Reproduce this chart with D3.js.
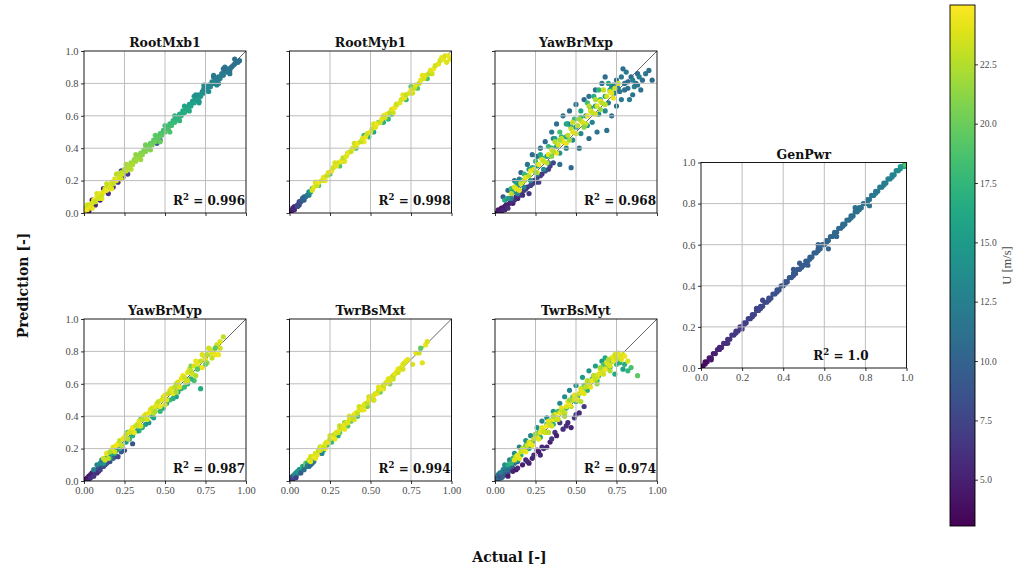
<!DOCTYPE html>
<html>
<head>
<meta charset="utf-8">
<script src="https://cdn.jsdelivr.net/npm/d3@7"></script>
<style>
  body { margin: 0; background: #fff; }
  svg { display: block; }
</style>
</head>
<body>
<svg id="chart" width="1016" height="571"></svg>
<script>
// ---- data: [actual, predicted, wind speed U] per channel ----
const panelNames = ["RootMxb1", "RootMyb1", "YawBrMxp", "YawBrMyp", "TwrBsMxt", "TwrBsMyt", "GenPwr"];
const r2Labels = ["0.996", "0.998", "0.968", "0.987", "0.994", "0.974", "1.0"];
const unitTicksQuarter = [0, 0.25, 0.5, 0.75, 1.0];
const unitTicksFifth = [0, 0.2, 0.4, 0.6, 0.8, 1.0];
const colorbarTicks = [5.0, 7.5, 10.0, 12.5, 15.0, 17.5, 20.0, 22.5];
const windRange = [3.05, 25.0];

const rootMxb1 = [
  [0.03,0.01,4.6],[0.05,0.08,4.1],[0.07,0.05,5.3],[0.10,0.08,4.8],[0.12,0.15,5.6],[0.15,0.12,6.1],[0.18,0.16,5.2],
  [0.21,0.19,6.4],[0.24,0.22,5.7],[0.23,0.26,6.8],[0.27,0.24,7.1],[0.45,0.43,8.9],[0.47,0.45,9.6],
  [0.02,0.05,23.9],[0.05,0.03,24.2],[0.08,0.12,23.4],[0.11,0.09,24.0],[0.14,0.18,23.1],[0.17,0.15,24.3],[0.20,0.24,22.7],
  [0.23,0.21,23.5],[0.26,0.30,22.1],[0.29,0.27,22.6],[0.32,0.36,21.3],[0.35,0.33,21.8],[0.38,0.42,20.4],[0.41,0.39,20.9],
  [0.44,0.48,19.6],[0.47,0.44,19.9],[0.50,0.54,18.5],[0.53,0.50,18.8],[0.56,0.60,17.3],[0.59,0.57,17.6],[0.62,0.66,16.0],
  [0.65,0.63,16.4],[0.68,0.72,14.8],[0.71,0.69,15.2],[0.74,0.79,13.7],[0.77,0.75,13.9],[0.80,0.85,12.3],[0.83,0.80,12.5],
  [0.87,0.90,11.4],[0.90,0.86,11.6],[0.93,0.95,11.0],
  [0.00,0.01,24.1],[0.01,0.03,23.6],[0.02,0.02,24.4],[0.03,0.05,23.2],[0.04,0.04,24.0],[0.05,0.06,23.7],[0.06,0.08,24.3],
  [0.07,0.07,23.1],[0.08,0.10,24.2],[0.09,0.09,23.5],[0.10,0.12,24.5],[0.11,0.11,23.3],[0.12,0.13,24.0],[0.13,0.15,23.6],
  [0.14,0.14,24.4],[0.15,0.17,23.0],[0.16,0.16,23.8],[0.17,0.19,24.2],[0.18,0.18,22.9],[0.19,0.21,23.7],[0.20,0.20,24.1],
  [0.21,0.24,22.6],[0.22,0.22,23.4],[0.23,0.25,22.8],[0.24,0.24,23.2],[0.25,0.27,22.3],[0.26,0.26,22.9],[0.27,0.29,22.0],
  [0.28,0.28,22.5],[0.29,0.31,21.7],[0.30,0.30,22.2],[0.31,0.33,21.4],[0.32,0.32,21.9],[0.33,0.35,21.1],[0.34,0.34,21.6],
  [0.35,0.37,20.8],[0.36,0.36,21.2],[0.37,0.39,20.5],[0.38,0.38,20.9],[0.39,0.41,20.1],[0.40,0.40,20.6],[0.41,0.43,19.8],
  [0.42,0.42,20.2],[0.43,0.45,19.5],[0.44,0.44,19.9],[0.45,0.47,19.1],[0.46,0.46,19.5],[0.47,0.49,18.8],[0.48,0.48,19.2],
  [0.49,0.51,18.4],[0.50,0.50,18.9],[0.51,0.53,18.1],[0.52,0.52,18.5],[0.53,0.55,17.8],[0.54,0.54,18.2],[0.55,0.57,17.4],
  [0.56,0.56,17.8],[0.57,0.59,17.1],[0.58,0.58,17.4],[0.59,0.61,16.7],[0.60,0.60,17.0],[0.61,0.63,16.3],[0.62,0.62,16.6],
  [0.63,0.65,15.9],[0.64,0.64,16.2],[0.65,0.67,15.5],[0.66,0.66,15.8],[0.67,0.69,15.1],[0.68,0.68,15.4],[0.69,0.71,14.7],
  [0.70,0.70,15.0],[0.71,0.73,14.3],[0.72,0.72,14.6],[0.73,0.75,13.9],[0.74,0.74,14.2],[0.75,0.77,13.6],[0.76,0.76,13.8],
  [0.77,0.79,13.0],[0.78,0.78,13.2],[0.79,0.81,12.7],[0.80,0.80,12.9],[0.81,0.83,12.4],[0.82,0.82,12.6],[0.83,0.84,12.1],
  [0.84,0.83,12.3],[0.85,0.86,11.9],[0.86,0.85,12.1],[0.87,0.88,11.7],[0.88,0.87,11.8],[0.89,0.89,11.5],[0.90,0.88,11.6],
  [0.91,0.90,11.3],[0.92,0.91,11.4],[0.93,0.92,11.2],[0.94,0.93,11.3],[0.95,0.93,11.1],[0.96,0.94,11.2],
  [0.86,0.89,11.0],[0.80,0.84,11.8],[0.74,0.77,13.1],[0.69,0.73,14.0],[0.82,0.79,13.1],[0.71,0.68,14.9]
];

const rootMyb1 = [
  [0.00,0.00,3.8],[0.01,0.01,4.3],[0.02,0.02,4.9],[0.03,0.02,5.4],[0.03,0.04,5.9],[0.04,0.04,6.5],[0.05,0.05,7.0],
  [0.06,0.05,7.6],[0.06,0.07,8.1],[0.07,0.07,8.6],[0.08,0.08,9.2],[0.09,0.08,9.7],[0.09,0.10,10.3],[0.10,0.10,10.8],
  [0.11,0.11,11.5],[0.12,0.11,12.4],[0.12,0.13,13.2],[0.13,0.13,14.5],[0.02,0.03,5.2],[0.05,0.04,8.0],[0.08,0.09,10.0],
  [0.14,0.15,17.5],[0.18,0.17,18.5],[0.25,0.24,19.2],[0.33,0.32,17.8],[0.41,0.40,18.6],[0.49,0.47,17.2],[0.55,0.56,19.4],
  [0.58,0.56,16.8],[0.63,0.61,18.2],[0.66,0.67,19.8],[0.72,0.70,17.6],[0.79,0.77,18.8],[0.36,0.37,16.4],[0.52,0.50,15.9],
  [0.31,0.29,19.0],[0.46,0.48,18.0],[0.61,0.58,17.5],[0.75,0.78,19.2],[0.85,0.83,18.4],
  [0.16,0.19,23.9],[0.22,0.20,24.3],[0.28,0.31,23.5],[0.34,0.32,24.1],[0.40,0.43,23.2],[0.46,0.44,24.4],[0.52,0.55,23.7],
  [0.58,0.60,24.0],[0.64,0.62,23.4],[0.70,0.73,24.2],[0.76,0.74,23.6],[0.82,0.85,24.0],[0.88,0.86,23.3],[0.94,0.96,24.1],
  [0.14,0.14,23.5],[0.15,0.16,24.1],[0.17,0.17,23.2],[0.18,0.19,24.4],[0.20,0.20,23.7],[0.21,0.22,24.2],[0.23,0.23,22.9],
  [0.24,0.25,23.8],[0.26,0.26,24.5],[0.27,0.28,23.3],[0.29,0.29,24.0],[0.30,0.31,23.6],[0.32,0.32,24.3],[0.33,0.34,22.8],
  [0.35,0.35,23.9],[0.36,0.37,24.4],[0.38,0.38,23.1],[0.39,0.40,24.1],[0.41,0.41,23.6],[0.42,0.43,24.5],[0.44,0.44,23.0],
  [0.45,0.46,23.9],[0.47,0.47,24.2],[0.48,0.49,23.4],[0.50,0.50,24.0],[0.51,0.52,22.9],[0.53,0.53,23.8],[0.54,0.55,24.4],
  [0.56,0.56,23.2],[0.57,0.58,24.1],[0.59,0.59,23.5],[0.60,0.61,24.3],[0.62,0.62,22.7],[0.63,0.64,23.9],[0.65,0.65,24.4],
  [0.66,0.67,23.3],[0.68,0.68,24.0],[0.69,0.70,23.6],[0.71,0.71,24.2],[0.72,0.73,22.9],[0.74,0.74,23.8],[0.75,0.76,24.5],
  [0.77,0.77,23.1],[0.78,0.79,24.0],[0.80,0.80,23.4],[0.81,0.82,24.3],[0.83,0.83,23.7],[0.84,0.85,24.1],[0.86,0.86,22.8],
  [0.87,0.88,23.9],[0.89,0.89,24.4],[0.90,0.91,23.3],[0.92,0.92,24.0],[0.93,0.94,23.6],[0.95,0.95,24.2],[0.96,0.97,23.5],
  [0.98,0.97,24.3],[0.97,0.93,23.8],[0.99,0.95,24.0]
];

const yawBrMxp = [
  [0.02,0.00,3.6],[0.04,0.01,4.4],[0.06,0.02,3.9],[0.11,0.06,4.6],[0.14,0.09,5.1],[0.17,0.11,5.7],[0.19,0.15,6.2],
  [0.23,0.18,5.9],[0.25,0.19,6.7],[0.29,0.24,6.3],[0.33,0.27,7.1],[0.36,0.31,7.6],
  [0.01,0.00,4.0],[0.02,0.02,4.5],[0.03,0.01,5.0],[0.04,0.03,4.2],[0.05,0.02,5.5],[0.06,0.04,4.8],[0.07,0.05,5.2],
  [0.08,0.03,6.0],[0.09,0.06,5.0],[0.10,0.07,5.8],[0.12,0.08,6.2],[0.13,0.10,5.5],[0.15,0.11,6.5],[0.16,0.13,6.0],
  [0.18,0.14,7.0],[0.20,0.16,6.4],[0.22,0.17,7.2],[0.24,0.20,6.8],[0.26,0.22,7.5],[0.28,0.23,7.0],[0.31,0.26,7.8],
  [0.34,0.29,7.4],[0.21,0.12,6.6],[0.27,0.19,7.3],
  [0.05,0.10,9.0],[0.08,0.14,10.5],[0.12,0.20,11.0],[0.16,0.25,10.0],[0.20,0.30,11.5],[0.23,0.36,10.8],[0.28,0.40,11.2],
  [0.31,0.44,10.5],[0.35,0.50,11.8],[0.38,0.55,10.9],[0.42,0.60,11.4],[0.46,0.63,10.6],[0.50,0.67,11.1],[0.55,0.70,10.4],
  [0.58,0.72,11.6],[0.62,0.76,10.8],[0.66,0.80,11.3],[0.68,0.84,10.7],
  [0.40,0.30,11.0],[0.47,0.28,10.5],[0.52,0.40,11.3],[0.58,0.46,10.8],[0.63,0.50,11.6],[0.69,0.51,11.2],[0.72,0.60,10.9],
  [0.75,0.66,11.5],
  [0.72,0.78,11.0],[0.75,0.82,10.6],[0.77,0.75,11.4],[0.79,0.89,10.9],[0.80,0.80,11.7],[0.82,0.77,11.2],[0.84,0.84,10.8],
  [0.85,0.73,11.5],[0.87,0.80,11.1],[0.88,0.86,10.7],[0.90,0.76,11.3],[0.91,0.82,10.9],[0.93,0.86,11.6],[0.95,0.88,11.2],
  [0.97,0.82,10.8],[0.78,0.70,11.9],[0.83,0.70,12.2],[0.86,0.78,12.5],[0.76,0.77,12.0],
  [0.74,0.74,12.3],[0.78,0.84,11.8],[0.81,0.87,12.0],[0.82,0.81,10.5],[0.85,0.82,12.4],[0.88,0.79,11.4],[0.89,0.84,12.1],
  [0.80,0.76,10.9],[0.73,0.79,12.6],[0.70,0.68,12.2],[0.45,0.55,11.9],[0.36,0.46,12.3],[0.26,0.35,11.7],[0.15,0.21,12.1],
  [0.33,0.31,13.2],[0.44,0.40,12.9],[0.53,0.49,13.4],[0.60,0.56,12.7],[0.68,0.63,13.6],[0.18,0.16,12.8],[0.26,0.24,13.1],
  [0.10,0.09,12.2],
  [0.06,0.08,16.5],[0.10,0.15,18.0],[0.13,0.19,15.6],[0.18,0.24,17.8],[0.21,0.27,15.2],[0.25,0.32,18.2],[0.28,0.36,16.0],
  [0.33,0.41,17.6],[0.37,0.46,15.4],[0.40,0.50,18.4],[0.44,0.55,16.2],[0.49,0.58,17.9],[0.53,0.63,15.8],[0.57,0.68,18.1],
  [0.61,0.72,16.6],[0.64,0.76,17.4],[0.70,0.80,15.9],
  [0.08,0.09,15.0],[0.11,0.13,16.0],[0.14,0.17,14.5],[0.17,0.20,17.0],[0.20,0.23,15.5],[0.23,0.28,16.5],[0.26,0.29,14.8],
  [0.29,0.34,17.2],[0.32,0.35,15.2],[0.35,0.40,16.8],[0.38,0.41,14.6],[0.41,0.47,17.5],[0.44,0.47,15.8],[0.47,0.53,16.2],
  [0.50,0.53,14.9],[0.53,0.59,17.1],[0.56,0.60,15.4],[0.59,0.65,16.6],[0.62,0.66,15.0],[0.65,0.70,17.3],[0.68,0.72,15.7],
  [0.71,0.76,16.4],[0.14,0.12,13.5],[0.22,0.20,14.0],[0.30,0.27,13.8],[0.40,0.37,14.2],[0.48,0.45,13.6],[0.57,0.54,14.4],
  [0.64,0.61,13.9],
  [0.12,0.16,23.6],[0.15,0.14,24.2],[0.18,0.20,23.0],[0.22,0.26,24.4],[0.26,0.25,23.3],[0.29,0.33,24.0],[0.32,0.31,22.8],
  [0.35,0.39,23.9],[0.38,0.37,24.3],[0.41,0.46,23.2],[0.44,0.43,24.1],[0.47,0.52,22.9],[0.50,0.49,23.7],[0.53,0.57,24.4],
  [0.56,0.55,23.1],[0.59,0.63,24.0],[0.62,0.61,23.5],[0.65,0.69,24.2],[0.68,0.67,22.8],[0.71,0.75,23.8],[0.73,0.71,24.3],
  [0.76,0.80,23.4],[0.58,0.66,22.6],[0.48,0.56,23.0],[0.37,0.44,22.4],[0.67,0.76,23.1],
  [0.10,0.12,23.0],[0.13,0.15,24.0],[0.16,0.18,23.5],[0.19,0.22,24.2],[0.21,0.23,22.8],[0.24,0.27,23.8],[0.27,0.30,24.5],
  [0.30,0.32,23.2],[0.33,0.36,24.0],[0.36,0.38,22.6],[0.39,0.42,23.6],[0.42,0.44,24.3],[0.45,0.48,23.0],[0.48,0.50,24.0],
  [0.51,0.54,22.9],[0.54,0.56,23.7],[0.57,0.60,24.4],[0.60,0.62,23.1],[0.63,0.66,23.9],[0.66,0.68,22.7],[0.69,0.72,23.5],
  [0.72,0.74,24.1],[0.74,0.77,23.3],[0.25,0.25,21.5],[0.35,0.35,21.0],[0.46,0.45,21.8],[0.55,0.53,21.2],[0.65,0.64,21.6],
  [0.40,0.45,22.0],[0.52,0.58,21.7],[0.62,0.70,22.2]
];

const yawBrMyp = [
  [0.02,0.02,5.5],[0.03,0.01,7.2],[0.04,0.04,8.5],[0.05,0.03,4.8],[0.06,0.05,9.5],[0.07,0.05,5.6],[0.08,0.07,10.2],
  [0.09,0.06,6.4],[0.11,0.09,10.8],[0.13,0.10,7.0],[0.15,0.13,11.4],[0.19,0.15,8.6],[0.23,0.18,9.2],
  [0.01,0.01,4.0],[0.02,0.00,5.0],[0.03,0.03,4.5],[0.04,0.02,6.0],[0.05,0.05,5.0],[0.06,0.03,6.5],[0.07,0.06,7.0],
  [0.08,0.05,6.0],[0.09,0.08,8.0],[0.10,0.07,7.5],[0.12,0.09,8.5],[0.14,0.11,9.0],[0.16,0.12,8.0],[0.18,0.14,9.5],
  [0.21,0.15,7.5],[0.25,0.19,8.2],[0.30,0.23,8.8],
  [0.12,0.11,14.8],[0.16,0.14,16.2],[0.19,0.17,14.6],[0.22,0.20,17.1],[0.28,0.26,15.9],[0.34,0.31,17.8],[0.38,0.35,15.2],
  [0.42,0.40,17.4],[0.49,0.45,16.4],[0.53,0.50,18.3],[0.57,0.52,15.6],[0.60,0.57,17.7],[0.64,0.60,16.8],[0.68,0.62,18.6],
  [0.06,0.07,12.0],[0.08,0.10,13.0],[0.10,0.11,14.0],[0.11,0.13,12.5],[0.13,0.14,15.0],[0.15,0.16,13.5],[0.17,0.17,16.0],
  [0.20,0.19,14.0],[0.23,0.22,16.5],[0.26,0.24,15.0],[0.30,0.28,17.0],[0.33,0.31,15.5],[0.36,0.33,16.8],[0.40,0.36,14.5],
  [0.43,0.39,16.0],[0.47,0.43,17.5],[0.51,0.48,15.8],[0.55,0.51,17.0],[0.58,0.55,16.2],[0.62,0.58,18.0],[0.66,0.63,17.2],
  [0.72,0.57,16.5],[0.45,0.46,18.5],[0.35,0.38,19.0],[0.27,0.30,18.0],
  [0.13,0.13,23.6],[0.15,0.14,22.9],[0.17,0.19,24.3],[0.19,0.18,23.4],[0.21,0.23,24.0],[0.23,0.22,23.2],[0.25,0.27,24.4],
  [0.27,0.26,22.7],[0.29,0.31,23.9],[0.31,0.30,24.2],[0.33,0.35,23.0],[0.35,0.34,23.8],[0.37,0.40,24.3],[0.39,0.38,23.5],
  [0.41,0.44,24.1],[0.43,0.42,22.8],[0.45,0.48,23.7],[0.47,0.46,24.4],[0.49,0.52,23.1],[0.51,0.50,24.0],[0.53,0.56,23.6],
  [0.55,0.54,24.2],[0.57,0.60,22.9],[0.59,0.58,23.8],[0.61,0.65,24.4],[0.63,0.61,23.2],[0.65,0.69,24.0],[0.67,0.66,23.5],
  [0.69,0.74,24.2],[0.71,0.70,22.8],[0.73,0.78,23.7],[0.75,0.75,24.3],[0.77,0.82,23.3],[0.79,0.79,23.9],[0.81,0.78,24.5],
  [0.84,0.82,23.4],[0.76,0.73,21.5],[0.66,0.71,21.0],
  [0.12,0.14,23.0],[0.14,0.17,24.0],[0.16,0.18,22.5],[0.18,0.21,23.8],[0.20,0.22,24.5],[0.22,0.25,23.0],[0.24,0.26,24.2],
  [0.26,0.29,22.8],[0.28,0.30,23.6],[0.30,0.33,24.4],[0.32,0.34,23.1],[0.34,0.37,24.0],[0.36,0.38,22.6],[0.38,0.41,23.7],
  [0.40,0.42,24.3],[0.42,0.45,23.2],[0.44,0.46,24.1],[0.46,0.49,22.9],[0.48,0.50,23.9],[0.50,0.53,24.4],[0.52,0.54,23.0],
  [0.54,0.57,24.0],[0.56,0.58,22.7],[0.58,0.61,23.6],[0.60,0.63,24.2],[0.62,0.64,23.3],[0.64,0.67,24.0],[0.66,0.68,22.8],
  [0.68,0.71,23.7],[0.70,0.73,24.3],[0.72,0.74,23.1],[0.74,0.77,23.9],[0.76,0.78,22.6],[0.78,0.81,23.5],[0.80,0.80,24.1],
  [0.82,0.84,23.2],[0.84,0.86,23.8],[0.86,0.89,22.9],[0.83,0.78,24.4],[0.79,0.76,23.0],[0.73,0.70,24.5],[0.69,0.65,22.4],
  [0.64,0.62,23.4],[0.57,0.55,22.2],[0.50,0.47,23.5],[0.44,0.43,22.1],[0.75,0.72,20.0],[0.81,0.82,19.5],[0.70,0.69,19.0]
];

const twrBsMxt = [
  [0.00,0.00,3.9],[0.01,0.00,4.8],[0.01,0.02,6.1],[0.02,0.01,7.4],[0.02,0.03,8.6],[0.03,0.03,9.8],[0.04,0.03,10.9],
  [0.04,0.05,12.2],[0.05,0.05,11.4],[0.06,0.05,13.1],[0.06,0.07,14.6],[0.07,0.07,12.8],[0.08,0.07,15.9],[0.08,0.09,17.4],
  [0.09,0.09,14.2],[0.10,0.09,19.0],[0.10,0.11,20.6],[0.11,0.11,16.3],
  [0.03,0.04,13.5],[0.05,0.06,15.0],[0.04,0.02,7.0],[0.07,0.05,9.5],[0.09,0.07,11.0],[0.11,0.09,12.0],[0.14,0.11,12.8],
  [0.12,0.09,11.5],[0.15,0.12,12.3],[0.20,0.17,13.0],[0.13,0.10,10.6],
  [0.21,0.19,14.8],[0.26,0.24,17.5],[0.30,0.28,16.2],[0.36,0.34,19.0],[0.42,0.40,18.0],[0.48,0.46,20.2],[0.56,0.55,19.8],
  [0.62,0.60,20.8],
  [0.19,0.21,19.5],[0.23,0.22,18.2],[0.27,0.28,19.8],[0.31,0.30,18.9],[0.34,0.36,20.3],[0.38,0.37,19.1],[0.45,0.44,20.6],
  [0.52,0.50,19.4],
  [0.13,0.15,23.9],[0.16,0.14,24.2],[0.19,0.21,23.3],[0.22,0.20,24.4],[0.25,0.28,23.6],[0.28,0.26,24.1],[0.31,0.34,23.0],
  [0.34,0.32,24.3],[0.37,0.40,23.7],[0.40,0.38,24.0],[0.43,0.46,23.4],[0.46,0.44,24.4],[0.49,0.52,23.2],[0.52,0.50,23.9],
  [0.55,0.58,24.2],[0.58,0.57,23.5],[0.61,0.63,24.0],[0.64,0.63,23.3],[0.67,0.69,24.3],[0.70,0.69,23.6],[0.73,0.75,23.8],
  [0.12,0.13,23.4],[0.13,0.12,24.1],[0.14,0.15,23.0],[0.15,0.15,24.4],[0.16,0.17,23.7],[0.17,0.16,24.2],[0.18,0.19,22.9],
  [0.19,0.19,23.8],[0.20,0.21,24.5],[0.21,0.21,23.3],[0.22,0.23,24.0],[0.23,0.24,23.6],[0.24,0.24,24.3],[0.25,0.26,22.8],
  [0.26,0.27,23.9],[0.27,0.27,24.4],[0.28,0.29,23.1],[0.29,0.30,24.1],[0.30,0.30,23.5],[0.31,0.32,24.3],[0.32,0.33,22.7],
  [0.33,0.33,23.9],[0.34,0.35,24.4],[0.35,0.36,23.3],[0.36,0.36,24.0],[0.37,0.38,23.6],[0.38,0.39,24.2],[0.39,0.39,22.9],
  [0.40,0.41,23.8],[0.41,0.42,24.5],[0.42,0.42,23.1],[0.43,0.44,24.0],[0.44,0.45,23.4],[0.45,0.45,24.3],[0.46,0.47,23.7],
  [0.47,0.48,24.1],[0.48,0.48,22.8],[0.49,0.50,23.9],[0.50,0.51,24.4],[0.51,0.51,23.3],[0.52,0.53,24.0],[0.53,0.54,23.6],
  [0.54,0.54,24.2],[0.55,0.56,22.9],[0.56,0.57,23.8],[0.57,0.57,24.5],[0.58,0.59,23.1],[0.59,0.60,24.0],[0.60,0.61,23.4],
  [0.61,0.61,24.3],[0.62,0.63,23.7],[0.63,0.64,24.1],[0.64,0.65,22.8],[0.65,0.66,23.9],[0.66,0.67,24.4],[0.67,0.67,23.3],
  [0.68,0.69,24.0],[0.69,0.70,23.6],[0.70,0.72,24.2],[0.71,0.73,23.5],[0.72,0.74,24.1],
  [0.76,0.72,23.8],[0.78,0.79,24.2],[0.80,0.79,23.4],[0.82,0.73,23.9],[0.84,0.84,24.3],[0.85,0.86,23.7],[0.81,0.82,19.6]
];

const twrBsMyt = [
  [0.01,0.00,8.0],[0.03,0.05,12.2],[0.04,0.02,9.8],[0.06,0.08,12.6],[0.07,0.06,10.4],[0.08,0.05,9.1],[0.10,0.09,11.5],
  [0.11,0.08,9.7],[0.12,0.11,11.0],[0.14,0.12,10.2],
  [0.00,0.00,6.5],[0.01,0.02,9.0],[0.02,0.01,10.5],[0.02,0.04,11.8],[0.03,0.03,8.2],[0.04,0.05,12.5],[0.05,0.03,10.0],
  [0.05,0.07,13.0],[0.06,0.06,11.2],[0.07,0.04,9.5],[0.08,0.09,12.0],[0.09,0.07,10.8],
  [0.13,0.07,4.2],[0.19,0.13,5.4],[0.23,0.14,4.9],[0.26,0.19,6.1],[0.29,0.21,5.3],[0.34,0.24,4.7],[0.37,0.30,6.3],
  [0.44,0.34,5.9],[0.50,0.41,6.7],[0.28,0.16,5.5],
  [0.08,0.03,4.5],[0.11,0.06,5.0],[0.14,0.08,5.6],[0.17,0.10,4.8],[0.20,0.12,6.0],[0.21,0.11,5.2],[0.24,0.16,5.8],
  [0.27,0.18,4.6],[0.30,0.20,6.2],[0.32,0.21,5.4],[0.35,0.26,6.6],[0.38,0.28,5.0],[0.42,0.32,6.0],[0.45,0.36,5.5],
  [0.49,0.39,6.4],[0.52,0.42,5.7],[0.55,0.46,6.8],[0.47,0.33,5.1],[0.40,0.36,6.9],
  [0.06,0.10,13.5],[0.09,0.13,12.8],[0.12,0.17,13.8],[0.15,0.21,12.5],[0.19,0.25,14.2],[0.22,0.28,13.0],[0.26,0.33,14.5],
  [0.29,0.37,12.9],[0.32,0.39,13.6],[0.36,0.43,14.8],[0.40,0.48,13.3],[0.43,0.52,14.0],[0.46,0.56,12.6],[0.50,0.59,13.9],
  [0.54,0.64,15.1],[0.58,0.68,14.3],[0.62,0.71,15.6],[0.66,0.74,14.7],[0.68,0.76,16.2],
  [0.08,0.10,16.5],[0.11,0.14,17.8],[0.14,0.13,15.8],[0.17,0.20,18.4],[0.21,0.20,16.2],[0.25,0.27,18.1],[0.28,0.27,16.6],
  [0.32,0.35,18.7],[0.36,0.35,16.9],[0.39,0.43,18.3],[0.43,0.42,16.4],[0.47,0.50,18.9],[0.50,0.49,16.7],[0.54,0.57,19.0],
  [0.57,0.56,16.8],[0.60,0.63,18.4],[0.63,0.62,17.0],[0.67,0.72,18.6],[0.71,0.70,17.2],[0.75,0.72,18.0],[0.77,0.73,17.0],
  [0.84,0.70,18.5],
  [0.10,0.11,17.5],[0.13,0.15,18.8],[0.16,0.16,16.9],[0.19,0.22,19.2],[0.23,0.24,17.7],[0.27,0.30,18.9],[0.30,0.31,17.2],
  [0.34,0.37,19.5],[0.37,0.38,17.9],[0.41,0.44,18.6],[0.44,0.45,17.4],[0.48,0.52,19.3],[0.51,0.52,18.0],[0.55,0.59,19.7],
  [0.58,0.59,17.6],[0.61,0.65,18.7],[0.64,0.65,17.3],[0.68,0.70,19.0],[0.72,0.74,18.2],[0.76,0.76,19.6],[0.80,0.72,16.8],
  [0.82,0.68,17.5],[0.79,0.69,15.8],[0.88,0.65,19.5],[0.78,0.77,15.2],[0.74,0.66,16.5],
  [0.13,0.15,23.5],[0.15,0.14,24.1],[0.17,0.20,23.0],[0.19,0.18,24.4],[0.21,0.24,23.7],[0.23,0.22,24.2],[0.25,0.28,22.9],
  [0.27,0.26,23.8],[0.29,0.33,24.3],[0.31,0.30,23.3],[0.33,0.37,24.0],[0.35,0.34,23.6],[0.37,0.41,24.4],[0.39,0.38,23.1],
  [0.41,0.45,24.1],[0.43,0.42,23.5],[0.45,0.49,24.2],[0.47,0.46,22.8],[0.49,0.53,23.9],[0.51,0.50,24.4],[0.53,0.57,23.4],
  [0.55,0.54,24.0],[0.57,0.61,23.6],[0.59,0.58,24.3],[0.61,0.65,23.0],[0.63,0.64,23.8],[0.65,0.69,24.2],[0.67,0.66,23.4],
  [0.69,0.73,24.0],[0.71,0.71,23.7],[0.73,0.74,24.4],[0.75,0.76,23.2],[0.77,0.77,24.1],[0.79,0.78,23.5],
  [0.12,0.13,23.8],[0.14,0.16,24.3],[0.16,0.18,23.1],[0.18,0.19,24.0],[0.20,0.22,23.6],[0.22,0.23,24.4],[0.24,0.26,22.9],
  [0.26,0.27,23.9],[0.28,0.30,24.2],[0.30,0.31,23.4],[0.32,0.34,24.5],[0.34,0.35,23.2],[0.36,0.38,24.1],[0.38,0.39,23.7],
  [0.40,0.42,24.3],[0.42,0.43,22.8],[0.44,0.46,23.9],[0.46,0.47,24.4],[0.48,0.50,23.3],[0.50,0.51,24.0],[0.52,0.54,23.6],
  [0.54,0.55,24.2],[0.56,0.58,22.9],[0.58,0.60,23.8],[0.60,0.62,24.5],[0.62,0.63,23.1],[0.64,0.66,24.0],[0.66,0.68,23.5],
  [0.68,0.69,24.3],[0.70,0.72,23.7],[0.72,0.76,24.1],[0.74,0.78,23.4],[0.76,0.79,24.2],[0.78,0.75,23.8],[0.80,0.77,24.4],
  [0.82,0.74,23.6],[0.70,0.75,22.5],[0.65,0.70,22.0],[0.57,0.62,22.6],[0.46,0.50,21.8],[0.36,0.40,22.2],[0.25,0.29,21.6],
  [0.53,0.49,22.4],[0.43,0.40,21.9],[0.33,0.30,22.7],[0.63,0.60,21.5],[0.71,0.68,22.3]
];

const genPwr = [
  [0.00,0.00,3.3],[0.01,0.01,3.6],[0.02,0.02,3.9],[0.03,0.03,4.2],[0.04,0.05,4.4],[0.05,0.05,4.6],[0.06,0.07,4.8],
  [0.07,0.07,5.0],[0.08,0.09,5.2],[0.09,0.09,5.4],[0.10,0.10,5.6],[0.11,0.12,5.8],[0.12,0.12,6.0],[0.13,0.14,6.1],
  [0.14,0.14,6.3],[0.15,0.16,6.4],[0.16,0.16,6.5],[0.17,0.18,6.6],[0.18,0.18,6.7],[0.19,0.20,6.8],[0.20,0.19,6.9],
  [0.21,0.22,7.0],[0.22,0.22,7.1],[0.23,0.24,7.2],[0.24,0.24,7.3],[0.25,0.26,7.4],[0.26,0.26,7.5],[0.27,0.28,7.6],
  [0.28,0.28,7.7],[0.29,0.30,7.8],[0.30,0.30,7.9],[0.31,0.32,8.0],[0.32,0.32,8.1],[0.33,0.34,8.1],[0.34,0.34,8.2],
  [0.35,0.36,8.3],[0.36,0.36,8.4],[0.37,0.38,8.5],[0.38,0.38,8.6],[0.39,0.40,8.6],[0.40,0.40,8.7],[0.41,0.42,8.8],
  [0.42,0.42,8.9],[0.43,0.44,8.9],[0.44,0.44,9.0],[0.45,0.46,9.1],[0.46,0.46,9.1],[0.47,0.48,9.2],[0.48,0.48,9.3],
  [0.49,0.50,9.3],[0.50,0.50,9.4],[0.51,0.52,9.5],[0.52,0.52,9.5],[0.53,0.54,9.6],[0.54,0.54,9.7],[0.55,0.56,9.7],
  [0.56,0.56,9.8],[0.57,0.58,9.9],[0.58,0.58,9.9],[0.59,0.60,10.0],[0.60,0.60,10.1],[0.61,0.62,10.1],[0.62,0.62,10.2],
  [0.63,0.64,10.3],[0.64,0.64,10.3],[0.65,0.66,10.4],[0.66,0.66,10.5],[0.67,0.68,10.5],[0.68,0.68,10.6],[0.69,0.70,10.7],
  [0.70,0.70,10.7],[0.71,0.72,10.8],[0.72,0.72,10.9],[0.73,0.74,10.9],[0.74,0.74,11.0],[0.75,0.76,11.1],[0.76,0.76,11.1],
  [0.77,0.78,11.2],[0.78,0.78,11.3],[0.79,0.80,11.4],[0.80,0.80,11.4],[0.81,0.82,11.5],[0.82,0.82,11.6],[0.83,0.84,11.7],
  [0.84,0.84,11.8],[0.85,0.86,11.9],[0.86,0.86,12.0],[0.87,0.88,12.1],[0.88,0.88,12.2],[0.89,0.90,12.3],[0.90,0.90,12.4],
  [0.91,0.92,12.5],[0.92,0.92,12.6],[0.93,0.94,12.8],[0.94,0.94,13.0],[0.95,0.96,13.2],[0.96,0.96,13.5],[0.97,0.97,14.0],
  [0.98,0.98,15.0],[0.99,0.98,16.5],[0.99,0.99,18.0],[1.00,0.99,19.5],
  [0.02,0.03,3.8],[0.05,0.04,4.5],[0.09,0.10,5.3],[0.13,0.12,6.0],[0.17,0.17,6.6],[0.21,0.21,7.0],[0.25,0.25,7.4],
  [0.29,0.29,7.8],[0.33,0.33,8.1],[0.37,0.37,8.5],[0.41,0.41,8.8],[0.45,0.45,9.1],[0.49,0.49,9.3],[0.53,0.53,9.6],
  [0.57,0.57,9.9],[0.61,0.61,10.1],[0.65,0.65,10.4],[0.69,0.69,10.7],[0.73,0.73,10.9],[0.77,0.77,11.2],[0.81,0.81,11.5],
  [0.85,0.85,11.9],[0.89,0.89,12.3],[0.93,0.93,12.8],[0.97,0.98,14.5],[1.00,1.00,18.5],
  [0.45,0.48,9.0],[0.52,0.50,9.4],[0.57,0.60,9.8],[0.62,0.58,10.1],[0.75,0.78,11.0],[0.82,0.79,11.5],[0.30,0.33,7.8],
  [0.27,0.29,7.4],[0.48,0.51,9.2],[0.66,0.64,10.4]
];

// ---- layout ----
const svg = d3.select("#chart");
const color = d3.scaleSequential(d3.interpolateViridis).domain(windRange);
const serif = "'DejaVu Serif', serif";
const tickFont = "'Liberation Serif', serif";

const small = 162, big = 205.5;
const panels = [
  { data: rootMxb1, x: 84,    y: 51,    s: small, xt: unitTicksQuarter, yt: unitTicksFifth, xLab: false, yLab: true,  xf: ".2f" },
  { data: rootMyb1, x: 289.5, y: 51,    s: small, xt: unitTicksQuarter, yt: unitTicksFifth, xLab: false, yLab: false, xf: ".2f" },
  { data: yawBrMxp, x: 495,   y: 51,    s: small, xt: unitTicksQuarter, yt: unitTicksFifth, xLab: false, yLab: false, xf: ".2f" },
  { data: yawBrMyp, x: 84,    y: 319,   s: small, xt: unitTicksQuarter, yt: unitTicksFifth, xLab: true,  yLab: true,  xf: ".2f" },
  { data: twrBsMxt, x: 289.5, y: 319,   s: small, xt: unitTicksQuarter, yt: unitTicksFifth, xLab: true,  yLab: false, xf: ".2f" },
  { data: twrBsMyt, x: 495,   y: 319,   s: small, xt: unitTicksQuarter, yt: unitTicksFifth, xLab: true,  yLab: false, xf: ".2f" },
  { data: genPwr,   x: 701,   y: 162.5, s: big,   xt: unitTicksFifth,   yt: unitTicksFifth, xLab: true,  yLab: true,  xf: ".1f", r2dx: -37 }
];

panels.forEach((p, i) => {
  const g = svg.append("g").attr("transform", `translate(${p.x},${p.y})`);
  const x = d3.scaleLinear().domain([0, 1]).range([0, p.s]);
  const y = d3.scaleLinear().domain([0, 1]).range([p.s, 0]);

  const clipId = `clip-${i}`;
  g.append("clipPath").attr("id", clipId)
    .append("rect").attr("width", p.s).attr("height", p.s);

  const plot = g.append("g").attr("clip-path", `url(#${clipId})`);

  // identity line
  plot.append("line")
    .attr("x1", x(0)).attr("y1", y(0)).attr("x2", x(1)).attr("y2", y(1))
    .attr("stroke", "#222").attr("stroke-width", 0.7);

  // samples
  plot.selectAll("circle").data(p.data).join("circle")
    .attr("cx", d => x(d[0]))
    .attr("cy", d => y(d[1]))
    .attr("r", 2.6)
    .attr("fill", d => color(d[2]));

  // grid on top of the samples
  const grid = g.append("g").attr("stroke", "#bdbdbd").attr("stroke-width", 1);
  grid.selectAll(".gx").data(p.xt.slice(1, -1)).join("line")
    .attr("x1", d => x(d)).attr("x2", d => x(d)).attr("y1", 0).attr("y2", p.s);
  grid.selectAll(".gy").data(p.yt.slice(1, -1)).join("line")
    .attr("y1", d => y(d)).attr("y2", d => y(d)).attr("x1", 0).attr("x2", p.s);

  // axes
  const xAxis = d3.axisBottom(x).tickValues(p.xt).tickSize(3).tickPadding(2.5)
    .tickFormat(p.xLab ? d3.format(p.xf) : () => "");
  const yAxis = d3.axisLeft(y).tickValues(p.yt).tickSize(3).tickPadding(2.5)
    .tickFormat(p.yLab ? d3.format(".1f") : () => "");

  [g.append("g").attr("transform", `translate(0,${p.s})`).call(xAxis),
   g.append("g").call(yAxis)].forEach(ax => {
    ax.attr("font-family", null);
    ax.select(".domain").remove();
    ax.selectAll(".tick line").attr("stroke", "#000").attr("stroke-width", 0.8);
    ax.selectAll(".tick text")
      .style("font-family", tickFont).style("font-size", "10.5px").attr("fill", "#4a4a4a");
  });

  // frame
  g.append("rect").attr("width", p.s).attr("height", p.s)
    .attr("fill", "none").attr("stroke", "#000").attr("stroke-width", 0.9);

  // title
  g.append("text").attr("x", p.s / 2).attr("y", -4)
    .attr("text-anchor", "middle").style("font-family", serif)
    .attr("font-weight", "bold").attr("font-size", 12.5).attr("fill", "#111")
    .text(panelNames[i]);

  // coefficient of determination
  const t = g.append("text")
    .attr("x", p.s - 1 + (p.r2dx || 0)).attr("y", p.s - 8)
    .attr("text-anchor", "end").style("font-family", serif)
    .attr("font-weight", "bold").attr("font-size", 12).attr("fill", "#111");
  t.append("tspan").text("R");
  t.append("tspan").attr("dy", -5).attr("font-size", 8.5).text("2");
  t.append("tspan").attr("dy", 5).text(" = " + r2Labels[i]);
});

// shared axis titles
svg.append("text").attr("transform", "translate(28,285.5) rotate(-90)")
  .attr("text-anchor", "middle").style("font-family", serif)
  .attr("font-weight", "bold").attr("font-size", 14).attr("fill", "#111")
  .text("Prediction [-]");
svg.append("text").attr("x", 509.5).attr("y", 562)
  .attr("text-anchor", "middle").style("font-family", serif)
  .attr("font-weight", "bold").attr("font-size", 14).attr("fill", "#111")
  .text("Actual [-]");

// ---- colour bar ----
const cb = { x: 950, y: 5, w: 25, h: 521 };
const cbScale = d3.scaleLinear().domain(windRange).range([cb.y + cb.h, cb.y]);
const defs = svg.append("defs");
const grad = defs.append("linearGradient").attr("id", "viridis-bar")
  .attr("x1", 0).attr("y1", 1).attr("x2", 0).attr("y2", 0);
d3.range(0, 1.0001, 0.05).forEach(t => {
  grad.append("stop").attr("offset", t).attr("stop-color", d3.interpolateViridis(t));
});
svg.append("rect").attr("x", cb.x).attr("y", cb.y).attr("width", cb.w).attr("height", cb.h)
  .attr("fill", "url(#viridis-bar)").attr("stroke", "#000").attr("stroke-width", 0.9);

const cbAxis = d3.axisRight(cbScale).tickValues(colorbarTicks).tickSize(3).tickPadding(2)
  .tickFormat(d3.format(".1f"));
const cbg = svg.append("g").attr("transform", `translate(${cb.x + cb.w},0)`).call(cbAxis);
cbg.attr("font-family", null);
cbg.select(".domain").remove();
cbg.selectAll(".tick line").attr("stroke", "#000").attr("stroke-width", 0.8);
cbg.selectAll(".tick text").style("font-family", tickFont).style("font-size", "9.5px").attr("fill", "#4a4a4a");

svg.append("text").attr("transform", `translate(1011,${cb.y + cb.h / 2}) rotate(-90)`)
  .attr("text-anchor", "middle").style("font-family", tickFont)
  .style("font-size", "12.5px").attr("fill", "#4a4a4a")
  .text("U [m/s]");
</script>
</body>
</html>
